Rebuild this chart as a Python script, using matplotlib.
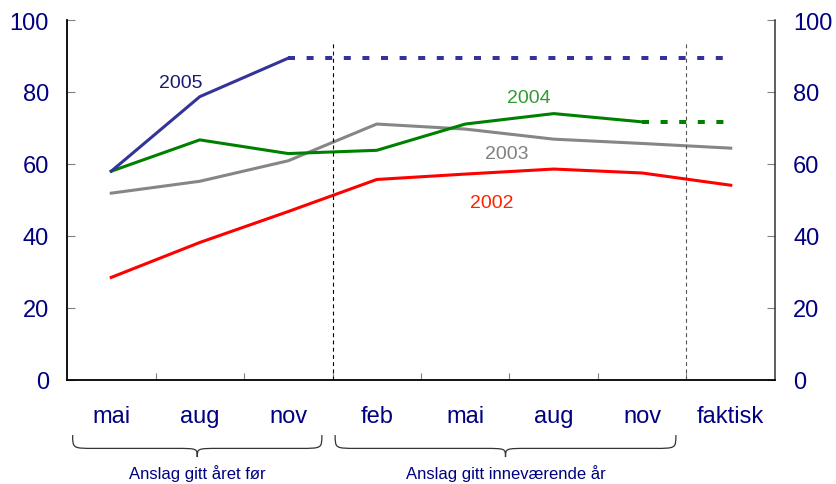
import numpy as np
import matplotlib
matplotlib.use("Agg")
import matplotlib.pyplot as plt
from matplotlib.path import Path
from matplotlib.patches import PathPatch
from matplotlib.transforms import blended_transform_factory

plt.rcParams['font.family'] = ['Liberation Sans', 'DejaVu Sans']

# kategorier: anslag gitt året før (mai, aug, nov), inneværende år (feb..nov), faktisk
months = ["mai", "aug", "nov", "feb", "mai", "aug", "nov", "faktisk"]

y2005 = [58.0, 78.7, 89.4]
y2004 = [58.0, 66.7, 62.9, 63.8, 71.1, 74.0, 71.7]
y2003 = [51.9, 55.2, 60.9, 71.1, 69.7, 66.9, 65.7, 64.4]
y2002 = [28.5, 38.2, 46.8, 55.7, 57.2, 58.6, 57.5, 54.1]

navy = "#000080"
c2005 = "#333399"
c2004 = "#008000"
c2003 = "#868686"
c2002 = "#ff0000"

fig = plt.figure(figsize=(8.36, 4.85), dpi=100)
ax = fig.add_axes([67 / 836, 1 - 381 / 485, (775 - 67) / 836, 360 / 485])

lw = 2.2
ax.plot(range(len(y2002)), y2002, color=c2002, lw=lw)
ax.plot(range(len(y2003)), y2003, color=c2003, lw=lw)
ax.plot(range(len(y2004)), y2004, color=c2004, lw=lw)
ax.plot(range(len(y2005)), y2005, color=c2005, lw=lw)

# siste anslag forlenget til "faktisk"
dots = (0, (1.75, 2.9))
ax.plot([len(y2005) - 1, len(months) - 1], [y2005[-1], y2005[-1]],
        color=c2005, lw=2.88, ls=dots, dash_capstyle='butt')
ax.plot([len(y2004) - 1, len(months) - 1], [y2004[-1], y2004[-1]],
        color=c2004, lw=2.88, ls=dots, dash_capstyle='butt')

# skillelinjer
ax.plot([2.5, 2.5], [0, 94.2], color="black", lw=0.8, ls=(0, (3.5, 3)))
ax.plot([6.5, 6.5], [0, 94.2], color="#555555", lw=0.8, ls=(0, (3.5, 3)))

ax.text(0.785, 82.7, "2005", color="#1a1a70", fontsize=14, ha="center", va="center")
ax.text(4.72, 78.4, "2004", color="#339933", fontsize=14, ha="center", va="center")
ax.text(4.47, 62.8, "2003", color="#808080", fontsize=14, ha="center", va="center")
ax.text(4.30, 49.3, "2002", color="#ff2200", fontsize=14, ha="center", va="center")

ax.set_xlim(-0.5, len(months) - 0.5)
ax.set_ylim(0, 100)
ax.set_yticks(range(0, 101, 20))
ax.set_xticks(np.arange(0.5, len(months) - 1, 1.0))
ax.set_xticklabels([])
ax.set_xticks(range(len(months)), minor=True)
ax.set_xticklabels(months, minor=True)

ax.tick_params(axis="y", which="major", direction="in", length=6, width=0.8,
               color="#808080", labelsize=17, labelcolor=navy, pad=13,
               left=True, right=True, labelleft=True, labelright=True)
ax.tick_params(axis="x", which="major", direction="in", length=5, width=0.8,
               color="#808080")
ax.tick_params(axis="x", which="minor", length=0, labelsize=17,
               labelcolor=navy, pad=18)

ax.spines["top"].set_visible(False)
ax.spines["left"].set_linewidth(1.3)
ax.spines["bottom"].set_linewidth(1.3)
ax.spines["right"].set_linewidth(1.1)
ax.spines["right"].set_color("#333333")


def brace(x0, x1, yt, ym, yb, r):
    xc = (x0 + x1) / 2
    verts = [(x0, yt), (x0, ym), (x0, ym), (x0 + r, ym),
             (xc - r, ym),
             (xc, ym), (xc, ym), (xc, yb),
             (xc, ym), (xc, ym), (xc + r, ym),
             (x1 - r, ym),
             (x1, ym), (x1, ym), (x1, yt)]
    codes = [Path.MOVETO, Path.CURVE4, Path.CURVE4, Path.CURVE4,
             Path.LINETO,
             Path.CURVE4, Path.CURVE4, Path.CURVE4,
             Path.CURVE4, Path.CURVE4, Path.CURVE4,
             Path.LINETO,
             Path.CURVE4, Path.CURVE4, Path.CURVE4]
    return Path(verts, codes)


trans = blended_transform_factory(ax.transData, ax.transAxes)
for x0, x1, label in [(-0.436, 2.38, "Anslag gitt året før"),
                      (2.53, 6.38, "Anslag gitt inneværende år")]:
    p = PathPatch(brace(x0, x1, -0.153, -0.19, -0.214, 0.25), facecolor="none",
                  edgecolor="#333333", lw=0.9, transform=trans, clip_on=False)
    ax.add_patch(p)
    ax.text((x0 + x1) / 2, -0.258, label, transform=trans, ha="center", va="center",
            fontsize=12, color=navy)

fig.savefig("out.png", dpi=100)
